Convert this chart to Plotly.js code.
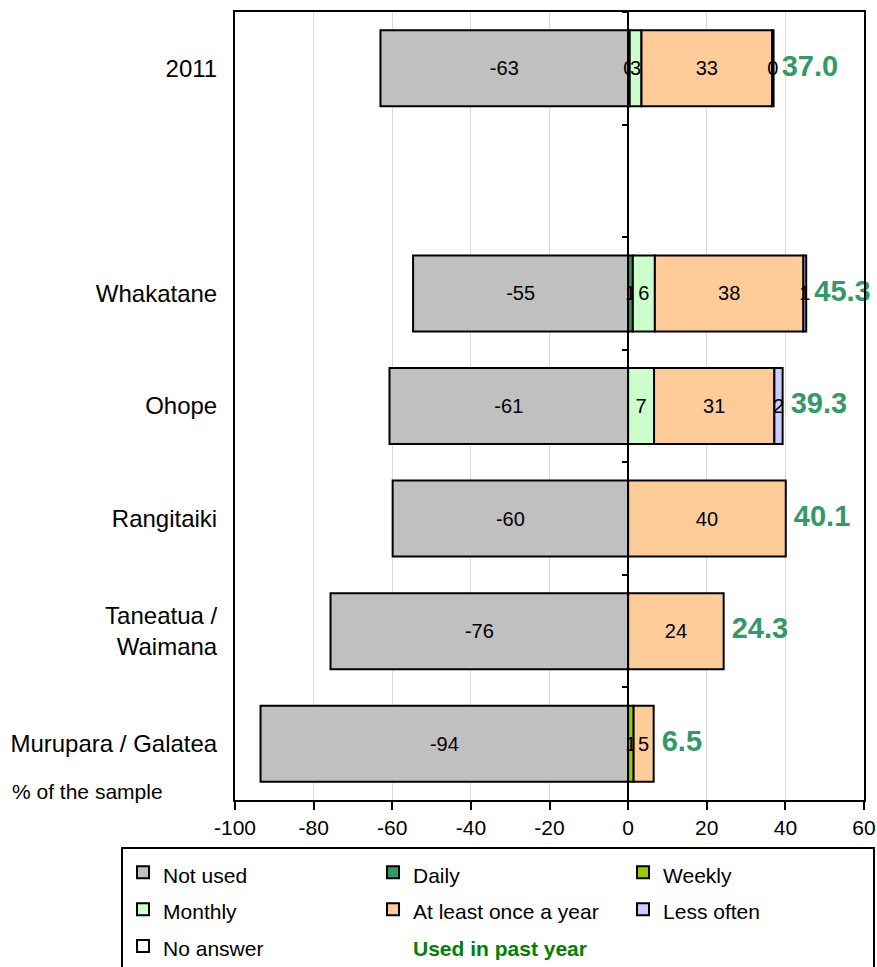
<!DOCTYPE html>
<html>
<head>
<meta charset="utf-8">
<script src="https://cdn.plot.ly/plotly-3.0.1.min.js"></script>
<style>html,body{margin:0;padding:0;background:#fff;}</style>
</head>
<body>
<div id="chart" style="width:877px;height:967px;"></div>
<script>
// ---- data ----
const categories = ['2011', ' ', 'Whakatane', 'Ohope', 'Rangitaiki', 'Taneatua /<br>Waimana', 'Murupara / Galatea'];
const notUsed   = [-63.0, null, -54.7, -60.7, -59.9, -75.7, -93.5];
const daily     = [0.4, null, 1.2, null, null, null, null];
const weekly    = [null, null, null, null, null, null, 1.4];
const monthly   = [3.0, null, 5.6, 6.6, null, null, null];
const annual    = [33.2, null, 37.8, 30.6, 40.1, 24.3, 5.1];
const lessOften = [0.4, null, 0.7, 2.1, null, null, null];
const noAnswer  = [null, null, null, null, null, null, null];
const usedPast  = [37.0, null, 45.3, 39.3, 40.1, 24.3, 6.5];
const xTicks      = [-100, -80, -60, -40, -20, 0, 20, 40, 60];
const xTickLabels = ['-100', '-80', '-60', '-40', '-20', '0', '20', '40', '60'];

const seriesNames  = ['Not used', 'Daily', 'Weekly', 'Monthly', 'At least once a year', 'Less often', 'No answer'];
const seriesValues = [notUsed, daily, weekly, monthly, annual, lessOften, noAnswer];
const seriesColors = ['#C0C0C0', '#339966', '#99CC00', '#CCFFCC', '#FFCC99', '#CCCCFF', '#FFFFFF'];

const FONT = 'Liberation Sans, Arial, sans-serif';
const legendLabel = s => '<span style="font-size:21px">' + s + '</span>';

const traces = seriesNames.map((name, i) => ({
  type: 'bar',
  orientation: 'h',
  name: legendLabel(name),
  x: seriesValues[i],
  y: categories,
  marker: { color: seriesColors[i], line: { color: '#000', width: 2 } },
  texttemplate: '%{x:.0f}',
  textposition: 'inside',
  insidetextanchor: 'middle',
  textangle: 0,
  textfont: { family: FONT, size: 20, color: '#000' },
  hoverinfo: 'skip'
}));

// legend-only entry
traces.push({
  type: 'scatter',
  mode: 'markers',
  x: [null],
  y: [null],
  name: '<span style="font-size:21px;color:#008000"><b>Used in past year</b></span>',
  marker: { color: 'rgba(0,0,0,0)', size: 1 },
  hoverinfo: 'skip'
});

// totals text
traces.push({
  type: 'scatter',
  mode: 'text',
  x: usedPast,
  y: categories,
  yaxis: 'y2',
  texttemplate: ' %{x:.1f}',
  textposition: 'middle right',
  textfont: { family: FONT, size: 29, color: '#339966', weight: 'bold' },
  showlegend: false,
  cliponaxis: false,
  hoverinfo: 'skip'
});

const layout = {
  width: 877,
  height: 967,
  margin: { l: 235, r: 13, t: 12, b: 167, autoexpand: false },
  paper_bgcolor: '#fff',
  plot_bgcolor: '#fff',
  font: { family: FONT, size: 20, color: '#000' },
  barmode: 'relative',
  bargap: 0.325,
  uniformtext: { mode: 'show', minsize: 20 },
  showlegend: true,
  xaxis: {
    range: [-100, 60],
    tickmode: 'array', tickvals: xTicks, ticktext: xTickLabels,
    ticks: 'outside', ticklen: 8, tickwidth: 2, tickcolor: '#000',
    showline: true, mirror: true, linecolor: '#000', linewidth: 2,
    showgrid: true, gridcolor: '#D9D9D9', gridwidth: 1,
    zeroline: true, zerolinecolor: '#000', zerolinewidth: 2,
    tickfont: { family: FONT, size: 21, color: '#000' },
    fixedrange: true
  },
  yaxis: {
    type: 'category',
    categoryorder: 'array', categoryarray: categories,
    range: [6.5, -0.5],
    ticks: '', showgrid: false, zeroline: false,
    showline: true, mirror: true, linecolor: '#000', linewidth: 2,
    tickfont: { family: FONT, size: 24, color: '#000' },
    ticklabelstandoff: 11,
    fixedrange: true
  },
  yaxis2: {
    type: 'category',
    categoryorder: 'array', categoryarray: categories,
    range: [6.5, -0.5],
    overlaying: 'y', anchor: 'free', position: 0.625, side: 'left',
    tickson: 'boundaries', ticks: 'outside', ticklen: 6, tickwidth: 2, tickcolor: '#000',
    showticklabels: false, showline: false, showgrid: false, zeroline: false,
    fixedrange: true
  },
  legend: {
    orientation: 'h',
    x: -0.1812, xanchor: 'left',
    y: -0.0596, yanchor: 'top',
    bordercolor: '#000', borderwidth: 2, bgcolor: '#fff',
    font: { family: FONT, size: 26, color: '#000' },
    entrywidth: 205, entrywidthmode: 'pixels',
    traceorder: 'normal'
  },
  annotations: [{
    text: '% of the sample',
    xref: 'paper', yref: 'paper',
    x: -0.3577, xanchor: 'left',
    y: 0.0114, yanchor: 'middle',
    showarrow: false,
    font: { family: FONT, size: 21, color: '#000' }
  }]
};

Plotly.newPlot('chart', traces, layout, { staticPlot: true, displayModeBar: false });
</script>
</body>
</html>
